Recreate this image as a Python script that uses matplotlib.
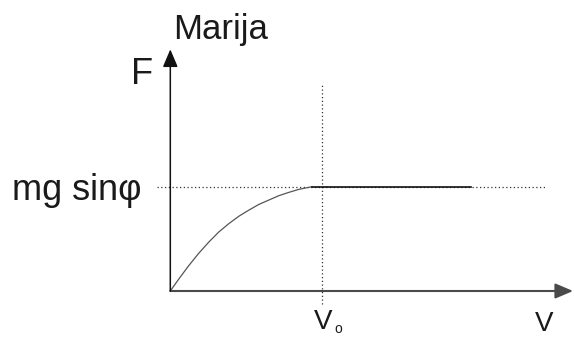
import matplotlib
matplotlib.use("Agg")
import matplotlib.pyplot as plt
import numpy as np

plt.rcParams['font.family'] = ['Liberation Sans', 'DejaVu Sans']

# force vs. velocity, normalised so that v0 = 1 and mg sin(phi) = 1
curve_v = [0.0, 0.055, 0.121, 0.187, 0.253, 0.319, 0.385, 0.451, 0.516,
           0.582, 0.648, 0.714, 0.780, 0.846, 0.890, 0.934]
curve_F = [0.0, 0.113, 0.242, 0.361, 0.468, 0.565, 0.645, 0.716, 0.774,
           0.829, 0.871, 0.913, 0.945, 0.974, 0.987, 1.0]
flat_v = [0.934, 1.98]
flat_F = [1.0, 1.0]
v0 = 1.0
F_lim = 1.0

W, H = 574, 337
fig = plt.figure(figsize=(W / 100, H / 100), dpi=100)
ax = fig.add_axes([0, 0, 1, 1])
ax.set_xlim(-1.1226, 2.661)
ax.set_ylim(-0.441, 2.790)
ax.axis('off')

# axes with arrow heads
ax.annotate('', xy=(2.655, 0), xytext=(0, 0),
            arrowprops=dict(arrowstyle='-|>,head_length=0.4,head_width=0.17',
                            mutation_scale=27, lw=1.5, color='#4a4a4a',
                            shrinkA=0, shrinkB=0))
ax.annotate('', xy=(0, 2.317), xytext=(0, 0),
            arrowprops=dict(arrowstyle='-|>,head_length=0.4,head_width=0.17',
                            mutation_scale=27, lw=1.1, color='#111111',
                            shrinkA=0, shrinkB=0))

# guide lines
ax.plot([-0.085, 2.48], [F_lim, F_lim], color='#333333', lw=0.9,
        linestyle=(0, (1, 2)))
ax.plot([v0, v0], [-0.12, 1.99], color='#333333', lw=0.9,
        linestyle=(0, (1, 2)))

# the curve
ax.plot(curve_v, curve_F, color='#555555', lw=0.9)
ax.plot(flat_v, flat_F, color='#111111', lw=1.2)

def put(x, y, s, size):
    fig.text(x / W, 1 - y / H, s, size=size, va='baseline', ha='left',
             color='#1a1a1a')

put(173, 39, 'Marija', 25)
put(131, 84, 'F', 26)
put(12, 200, 'mg sinφ', 26)
put(314, 329, 'V', 20)
put(334, 333, 'o', 10)
put(535, 331, 'V', 20)

fig.savefig('out.png', dpi=100)
